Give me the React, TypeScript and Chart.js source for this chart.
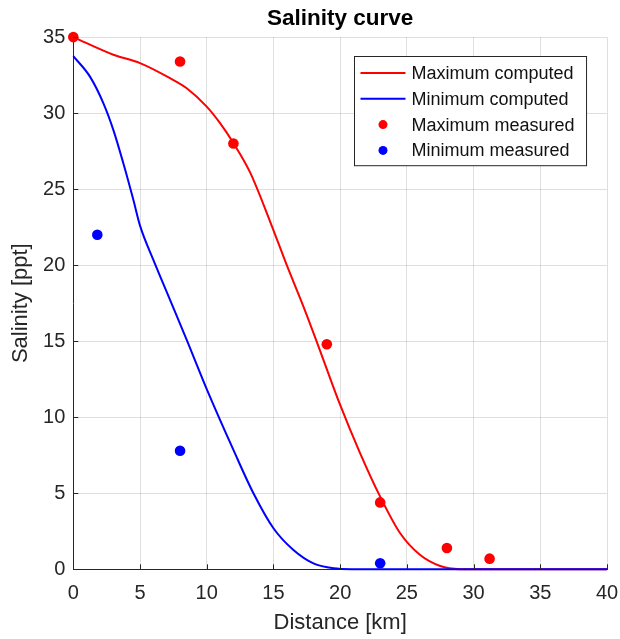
import React, { useEffect, useRef } from "react";
import { Chart, registerables } from "chart.js";

Chart.register(...registerables);

const FONT = "'Liberation Sans', Arial, Helvetica, sans-serif";

const titleText = "Salinity curve";
const xLabel = "Distance [km]";
const yLabel = "Salinity [ppt]";

const seriesNames = ["Maximum computed", "Minimum computed", "Maximum measured", "Minimum measured"];

const maxCompX = [0, 3, 5, 7.25, 8.5, 10, 11, 12, 13.25, 14.75, 16, 17.25, 18.38, 20, 21.5, 23, 24.5, 26, 27.5, 29, 30, 35, 40];
const maxCompY = [35, 33.84, 33.29, 32.3, 31.64, 30.43, 29.34, 28.03, 26.1, 22.87, 20.0, 17.28, 14.65, 10.81, 7.63, 4.78, 2.37, 0.94, 0.22, 0.01, 0, 0, 0];

const minCompX = [0, 1.25, 2.25, 3, 3.75, 4.5, 5, 6, 7.25, 8.5, 10, 12, 13.5, 15, 16.5, 18, 19.5, 21, 25, 30, 40];
const minCompY = [33.75, 32.4, 30.66, 28.9, 26.7, 24.3, 22.6, 20.35, 17.72, 15.09, 11.85, 7.85, 5.0, 2.7, 1.27, 0.39, 0.07, 0.01, 0, 0, 0];

const maxMeasX = [0, 8, 12, 19, 23, 28, 31.2];
const maxMeasY = [35, 33.4, 28, 14.8, 4.4, 1.4, 0.7];

const minMeasX = [1.8, 8, 23];
const minMeasY = [22, 7.8, 0.4];

const xTicks = [0, 5, 10, 15, 20, 25, 30, 35, 40];
const yTicks = [0, 5, 10, 15, 20, 25, 30, 35];

const toPts = (xs: number[], ys: number[]) => xs.map((x, i) => ({ x, y: ys[i] }));

const AXIS_COLOR = "#262626";
const GRID_COLOR = "rgba(38,38,38,0.15)";

const inwardTicks = {
  id: "inwardTicks",
  afterDatasetsDraw(chart: any) {
    const { ctx, chartArea, scales } = chart;
    ctx.save();
    ctx.strokeStyle = AXIS_COLOR;
    ctx.lineWidth = 1;
    const len = 5;
    xTicks.forEach((t) => {
      const px = Math.round(scales.x.getPixelForValue(t)) + 0.5;
      ctx.beginPath();
      ctx.moveTo(px, chartArea.bottom);
      ctx.lineTo(px, chartArea.bottom - len);
      ctx.stroke();
    });
    yTicks.forEach((t) => {
      const py = Math.round(scales.y.getPixelForValue(t)) + 0.5;
      ctx.beginPath();
      ctx.moveTo(chartArea.left, py);
      ctx.lineTo(chartArea.left + len, py);
      ctx.stroke();
    });
    ctx.restore();
  },
};

const boxLegend = {
  id: "boxLegend",
  afterDraw(chart: any) {
    const { ctx, chartArea } = chart;
    const ds = chart.data.datasets;
    ctx.save();
    ctx.font = `18px ${FONT}`;
    const textW = Math.max(...ds.map((d: any) => ctx.measureText(d.label).width));
    const padL = 6;
    const lineLen = 45;
    const gap = 6;
    const padR = 12;
    const rowH = 25.8;
    const w = padL + lineLen + gap + textW + padR;
    const h = rowH * ds.length + 6;
    const right = chartArea.right - 21;
    const left = Math.round(right - w) + 0.5;
    const top = Math.round(chartArea.top + 19) + 0.5;
    ctx.fillStyle = "#ffffff";
    ctx.fillRect(left, top, w, h);
    ctx.strokeStyle = AXIS_COLOR;
    ctx.lineWidth = 1;
    ctx.strokeRect(left, top, w, h);
    ds.forEach((d: any, i: number) => {
      const cy = top + 16.5 + i * rowH;
      const x0 = left + padL;
      if (d.showLine) {
        ctx.strokeStyle = d.borderColor;
        ctx.lineWidth = 2;
        ctx.beginPath();
        ctx.moveTo(x0, cy);
        ctx.lineTo(x0 + lineLen, cy);
        ctx.stroke();
      } else {
        ctx.fillStyle = d.backgroundColor;
        ctx.beginPath();
        ctx.arc(x0 + lineLen / 2, cy, 4.5, 0, Math.PI * 2);
        ctx.fill();
      }
      ctx.fillStyle = "#111111";
      ctx.textAlign = "left";
      ctx.textBaseline = "middle";
      ctx.fillText(d.label, x0 + lineLen + gap, cy + 1);
    });
    ctx.restore();
  },
};

export default function App() {
  const ref = useRef<HTMLCanvasElement | null>(null);
  useEffect(() => {
    if (!ref.current) return;
    const chart = new Chart(ref.current, {
      type: "scatter",
      data: {
        datasets: [
          {
            label: seriesNames[0],
            data: toPts(maxCompX, maxCompY),
            showLine: true,
            borderColor: "#ff0000",
            backgroundColor: "#ff0000",
            borderWidth: 2,
            pointRadius: 0,
            cubicInterpolationMode: "monotone",
            clip: false,
            order: 4,
          },
          {
            label: seriesNames[1],
            data: toPts(minCompX, minCompY),
            showLine: true,
            borderColor: "#0000ff",
            backgroundColor: "#0000ff",
            borderWidth: 2,
            pointRadius: 0,
            cubicInterpolationMode: "monotone",
            clip: false,
            order: 3,
          },
          {
            label: seriesNames[2],
            data: toPts(maxMeasX, maxMeasY),
            showLine: false,
            borderColor: "#ff0000",
            backgroundColor: "#ff0000",
            pointRadius: 5.3,
            pointBorderWidth: 0,
            clip: false,
            order: 2,
          },
          {
            label: seriesNames[3],
            data: toPts(minMeasX, minMeasY),
            showLine: false,
            borderColor: "#0000ff",
            backgroundColor: "#0000ff",
            pointRadius: 5.3,
            pointBorderWidth: 0,
            clip: false,
            order: 1,
          },
        ] as any,
      },
      options: {
        responsive: false,
        animation: false,
        events: [],
        layout: { padding: { left: 0, right: 13, top: 0, bottom: 0 } },
        plugins: {
          legend: { display: false },
          tooltip: { enabled: false },
          title: {
            display: true,
            text: titleText,
            fullSize: false,
            color: "#000000",
            font: { family: FONT, size: 22.5, weight: "bold", lineHeight: 1.2 },
            padding: { top: 5, bottom: 5.1 },
          },
        },
        scales: {
          x: {
            type: "linear",
            min: 0,
            max: 40,
            afterBuildTicks: (s: any) => {
              s.ticks = xTicks.map((v) => ({ value: v }));
            },
            afterFit: (s: any) => {
              s.height = 69.7;
              s.paddingLeft = 0;
              s.paddingRight = 0;
            },
            grid: { color: GRID_COLOR, drawTicks: false, lineWidth: 1 },
            border: { display: true, color: AXIS_COLOR, width: 1 },
            ticks: {
              color: AXIS_COLOR,
              font: { family: FONT, size: 20 },
              padding: 12,
              maxRotation: 0,
              autoSkip: false,
            },
            title: {
              display: true,
              text: xLabel,
              color: AXIS_COLOR,
              font: { family: FONT, size: 22 },
              padding: { top: 0, bottom: 3 },
            },
          },
          y: {
            type: "linear",
            min: 0,
            max: 35,
            afterBuildTicks: (s: any) => {
              s.ticks = yTicks.map((v) => ({ value: v }));
            },
            afterFit: (s: any) => {
              s.width = 73.3;
              s.paddingTop = 0;
              s.paddingBottom = 0;
            },
            grid: { color: GRID_COLOR, drawTicks: false, lineWidth: 1 },
            border: { display: true, color: AXIS_COLOR, width: 1 },
            ticks: {
              color: AXIS_COLOR,
              font: { family: FONT, size: 20 },
              padding: 8,
              autoSkip: false,
            },
            title: {
              display: true,
              text: yLabel,
              color: AXIS_COLOR,
              font: { family: FONT, size: 22 },
              padding: { top: 8, bottom: 0 },
            },
          },
        },
      } as any,
      plugins: [inwardTicks, boxLegend],
    });
    return () => chart.destroy();
  }, []);
  return (
    <div style={{ position: "fixed", left: 0, top: 0, width: 620, height: 639, background: "#ffffff" }}>
      <canvas ref={ref} width={620} height={639} />
    </div>
  );
}
